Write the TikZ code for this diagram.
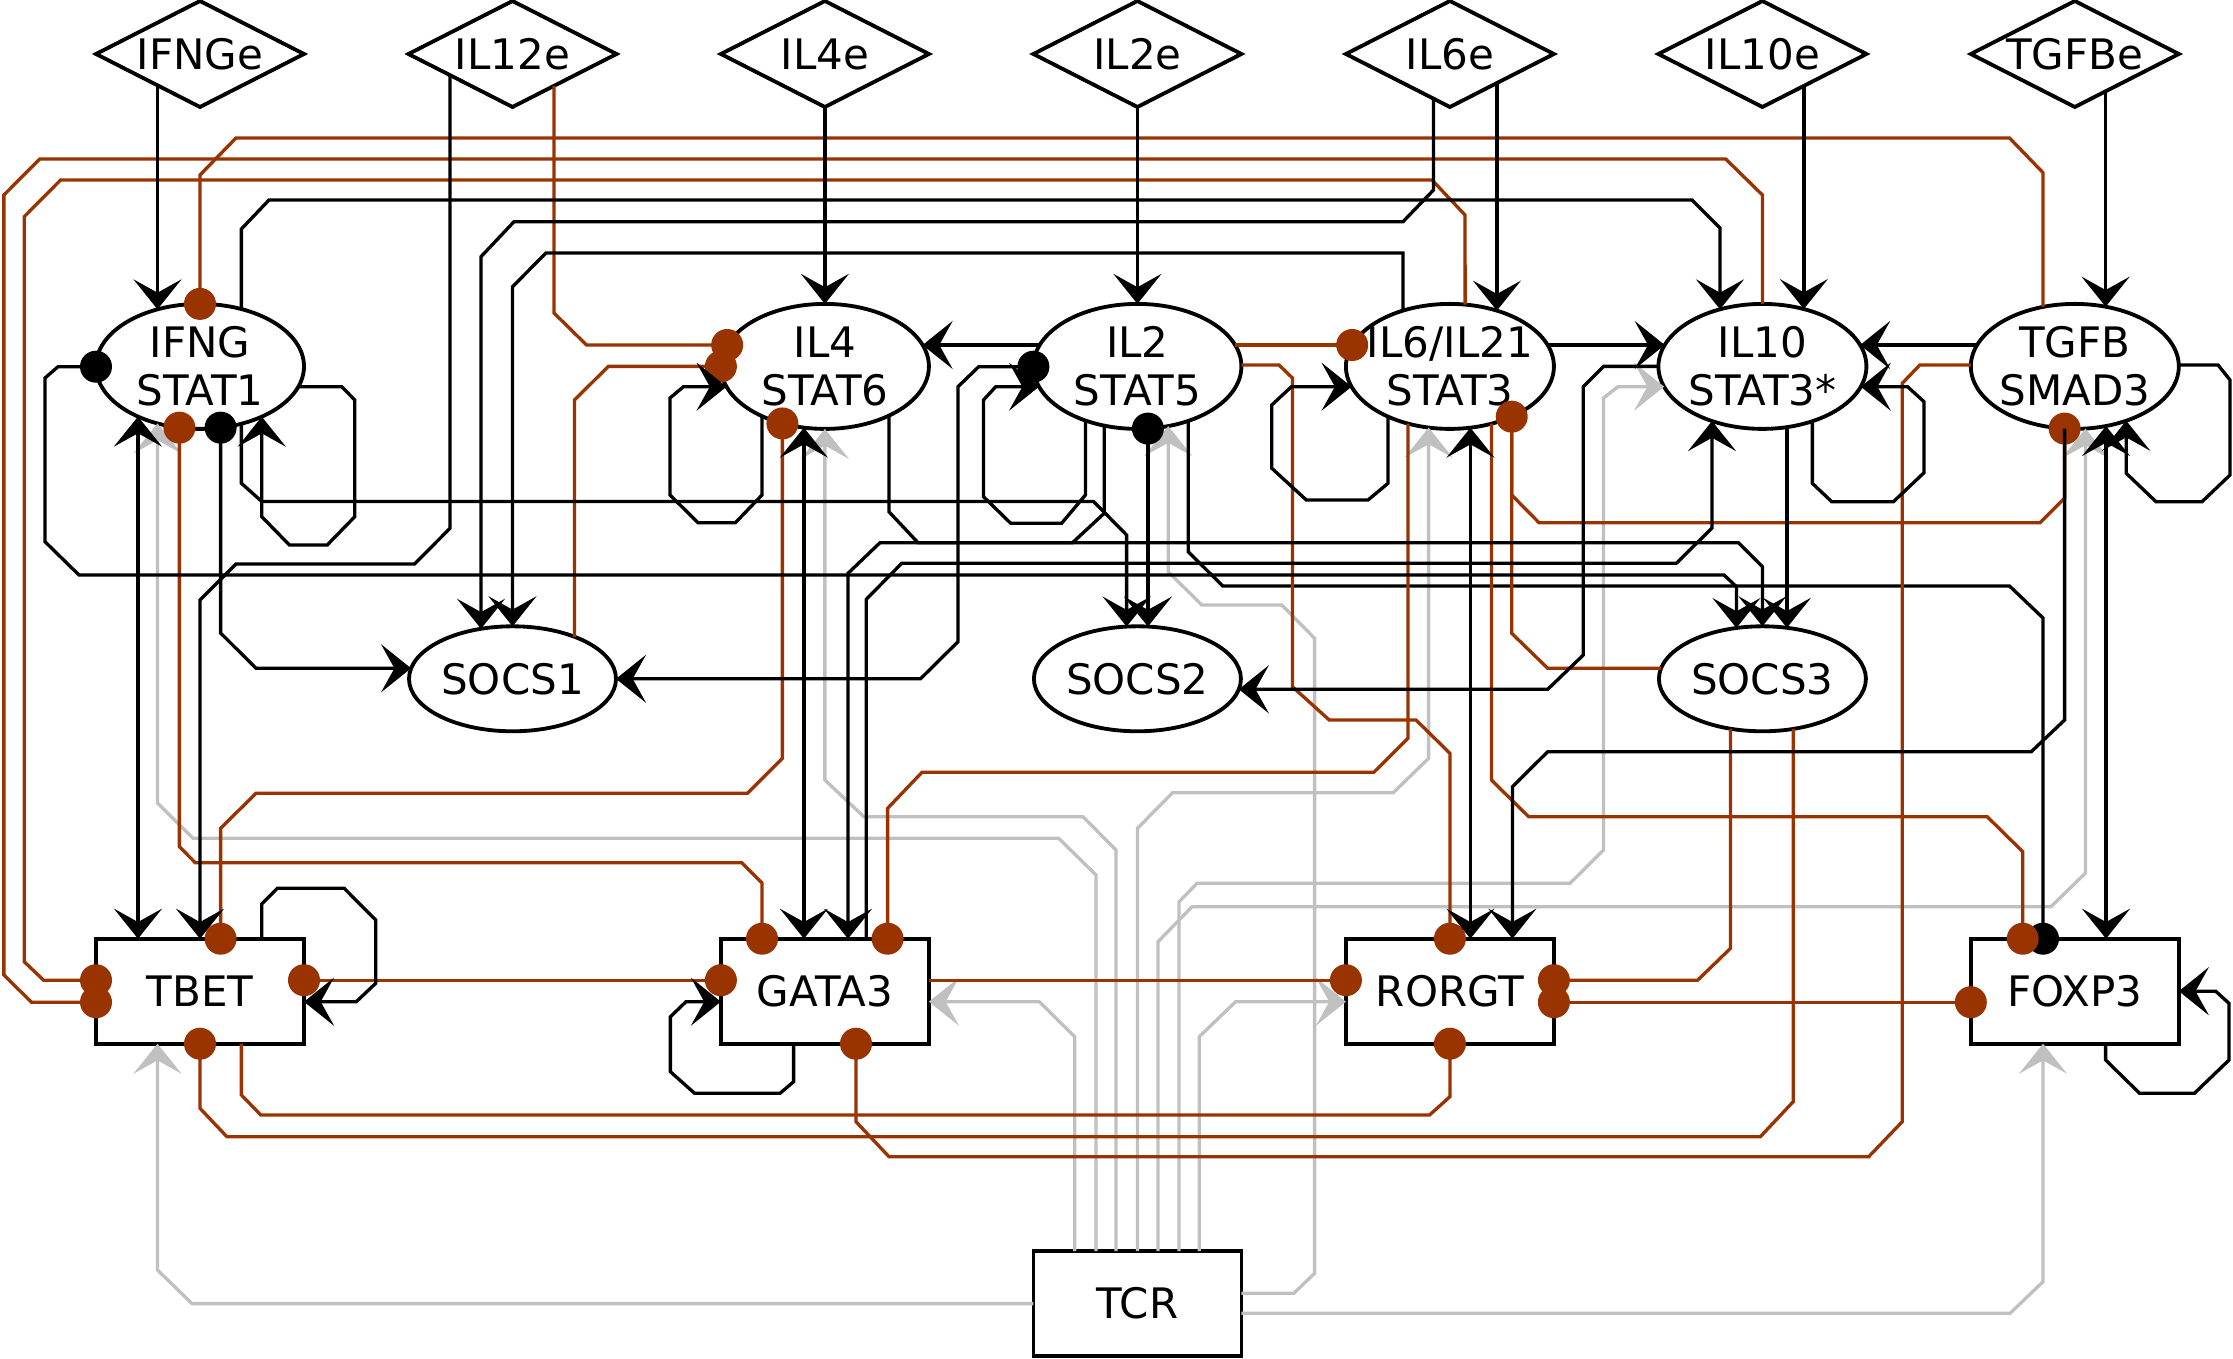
\documentclass[tikz,border=0pt]{standalone}
\usepackage{fontspec}
\setmainfont{DejaVu Sans}
\usetikzlibrary{shapes.geometric,arrows.meta,calc}
\definecolor{brn}{HTML}{993300}
\definecolor{gry}{HTML}{C0C0C0}
% boundary points: STAT ellipses (a=104,b=62.5)
\newcommand\eB[2]{($(#1)+(#2,{62.5*sqrt(1-(#2)*(#2)/10816)})$)}
\newcommand\eT[2]{($(#1)+(#2,{-62.5*sqrt(1-(#2)*(#2)/10816)})$)}
\newcommand\eL[2]{($(#1)+({-104*sqrt(1-(#2)*(#2)/3906.25)},#2)$)}
\newcommand\eR[2]{($(#1)+({104*sqrt(1-(#2)*(#2)/3906.25)},#2)$)}
% SOCS ellipses (a=103.5,b=52.5)
\newcommand\sB[2]{($(#1)+(#2,{52.5*sqrt(1-(#2)*(#2)/10712.25)})$)}
\newcommand\sT[2]{($(#1)+(#2,{-52.5*sqrt(1-(#2)*(#2)/10712.25)})$)}
\newcommand\sL[2]{($(#1)+({-103.5*sqrt(1-(#2)*(#2)/2756.25)},#2)$)}
\newcommand\sR[2]{($(#1)+({103.5*sqrt(1-(#2)*(#2)/2756.25)},#2)$)}
% boxes
\newcommand\bT[2]{($(#1.north)+(#2,0)$)}
\newcommand\bB[2]{($(#1.south)+(#2,0)$)}
\newcommand\bL[2]{($(#1.west)+(0,#2)$)}
\newcommand\bR[2]{($(#1.east)+(0,#2)$)}
% diamonds
\newcommand\dB[2]{($(#1)+(#2,{53*(1-abs(#2)/104)})$)}
\begin{document}
\begin{tikzpicture}[x=0.3pt,y=-0.3pt,
  >={Stealth[length=9pt,width=14.4pt,inset=4pt]},
  every node/.style={font={\fontsize{12.6pt}{14.4pt}\selectfont}, outer sep=0pt},
  base/.style={draw, line width=1.15pt, fill=white},
  dia/.style={base, diamond, inner sep=0pt, minimum width=62.4pt, minimum height=31.8pt},
  stat/.style={base, ellipse, align=center, inner xsep=-8pt, inner ysep=-3pt, minimum width=62.4pt, minimum height=37.5pt},
  socs/.style={base, ellipse, inner sep=0pt, minimum width=62.1pt, minimum height=31.5pt},
  bx/.style={base, rectangle, inner sep=0pt, minimum width=62.4pt, minimum height=31.5pt},
  kl/.style={draw=black, line width=1pt},
  bl/.style={draw=brn, line width=1pt},
  gl/.style={draw=gry, line width=1pt, ->},
  bdot/.style={circle, fill=brn, draw=none, inner sep=0pt, minimum size=9.6pt},
  kdot/.style={circle, fill=black, draw=none, inner sep=0pt, minimum size=9.6pt}]
\useasboundingbox (0,0) rectangle (2233,1358);
% ---------------- nodes
\node[dia] (IFNGe) at (200,54) {\makebox[0pt]{IFNGe}};
\node[dia] (IL12e) at (512.5,54) {\makebox[0pt]{IL12e}};
\node[dia] (IL4e) at (824.9,54) {\makebox[0pt]{IL4e}};
\node[dia] (IL2e) at (1137.4,54) {\makebox[0pt]{IL2e}};
\node[dia] (IL6e) at (1449.9,54) {\makebox[0pt]{IL6e}};
\node[dia] (IL10e) at (1762.4,54) {\makebox[0pt]{IL10e}};
\node[dia] (TGFBe) at (2074.8,54) {\makebox[0pt]{TGFBe}};
\node[stat] (IFNG) at (200,366.4) {IFNG\\STAT1};
\node[stat] (IL4) at (824.9,366.4) {IL4\\STAT6};
\node[stat] (IL2) at (1137.4,366.4) {IL2\\STAT5};
\node[stat] (IL6) at (1449.9,366.4) {IL6/IL21\\STAT3};
\node[stat] (IL10) at (1762.4,366.4) {IL10\\STAT3*};
\node[stat] (TGFB) at (2074.8,366.4) {TGFB\\SMAD3};
\node[socs] (SOCS1) at (512.5,678.8) {\makebox[0pt]{SOCS1}};
\node[socs] (SOCS2) at (1137.4,678.8) {\makebox[0pt]{SOCS2}};
\node[socs] (SOCS3) at (1762.4,678.8) {\makebox[0pt]{SOCS3}};
\node[bx] (TBET) at (200,991.2) {\makebox[0pt]{TBET}};
\node[bx] (GATA3) at (824.9,991.2) {\makebox[0pt]{GATA3}};
\node[bx] (RORGT) at (1449.9,991.2) {\makebox[0pt]{RORGT}};
\node[bx] (FOXP3) at (2074.8,991.2) {\makebox[0pt]{FOXP3}};
\node[bx] (TCR) at (1137.4,1303.6) {\makebox[0pt]{TCR}};
% ---------------- gray (TCR)
\draw[gl] (TCR.west) -- (192,1303.6) -- (157.5,1270) -- \bB{TBET}{-42.5};
\draw[gl] \bT{TCR}{-62.7} -- (1074.7,1036.7) -- (1039.3,1001.7) -- \bR{GATA3}{10.5};
\draw[gl] \bT{TCR}{-41.4} -- (1096,875) -- (1058.7,838.3) -- (193,838.3) -- (157.5,803) -- \eB{IFNG}{-42.5};
\draw[gl] \bT{TCR}{-21.5} -- (1115.9,850) -- (1083,816.7) -- (863.8,816.7) -- (824.9,780) -- (IL4.south);
\draw[gl] (TCR.north) -- (1137.4,828.3) -- (1172.6,792.7) -- (1393.2,792.7) -- (1428.6,758.3) -- \eB{IL6}{-21.3};
\draw[gl] \bT{TCR}{20.6} -- (1158,941.7) -- (1192,906.7) -- (2051,906.7) -- (2085.4,873) -- \eB{TGFB}{10.6};
\draw[gl] \bT{TCR}{41.5} -- (1178.9,902) -- (1197,883.3) -- (1570,883.3) -- (1603.5,850) -- (1603.5,398) -- (1617.9,386.7) -- \eL{IL10}{20.3};
\draw[gl] \bT{TCR}{61.9} -- (1199.3,1036.7) -- (1235.6,1001.7) -- \bL{RORGT}{10.5};
\draw[gl] \bR{TCR}{-10.3} -- (1293.8,1293.3) -- (1314.6,1273.3) -- (1314.6,638.3) -- (1281.7,605) -- (1201.7,605) -- (1168.2,571.7) -- \eB{IL2}{30.8};
\draw[gl] \bR{TCR}{9.7} -- (2010,1313.3) -- (2043,1281.7) -- \bB{FOXP3}{-31.8};
% ---------------- black dot edge below brown dot
\draw[kl] \eB{IL2}{50.8} -- (1188.2,551.7) -- (1222.7,586) -- (2009.5,586) -- (2043,618) -- \bT{FOXP3}{-31.8} node[kdot]{};
% ---------------- brown inhibitions
\draw[bl] \eT{TGFB}{-31.8} -- (2043,172.7) -- (2009.5,138) -- (236,138) -- (200,175) -- (IFNG.north) node[bdot]{};
\draw[bl] (IL10.north) -- (1762.4,195) -- (1725.7,159) -- (39.7,159) -- (3.9,195) -- (3.9,975) -- (31.5,1002.2) -- \bL{TBET}{11} node[bdot]{};
\draw[bl] \eT{IL6}{15.2} -- (1465,215) -- (1432,180) -- (60.6,180) -- (24.2,216.7) -- (24.2,961.7) -- (43.6,980.2) -- \bL{TBET}{-11} node[bdot]{};
\draw[bl] \dB{IL12e}{41.5} -- (554,313) -- (586.5,345) -- \eL{IL4}{-21.4} node[bdot]{};
\draw[bl] \sT{SOCS1}{62} -- (574.5,400) -- (608.3,366.4) -- (IL4.west) node[bdot]{};
\draw[bl] \eR{IL2}{-21.4} -- \eL{IL6}{-21.4} node[bdot]{};
\draw[bl] \eR{IL2}{-1.4} -- (1279,365) -- (1292.4,378) -- (1292.4,686.7) -- (1329.2,720) -- (1416,720) -- (1449.9,753.3) -- (RORGT.north) node[bdot]{};
\draw[bl] \eB{IL6}{-42} -- (1407.9,738.3) -- (1373.8,772.3) -- (922,772.3) -- (887.6,808.3) -- \bT{GATA3}{62.7} node[bdot]{};
\draw[bl] \eB{IL6}{41.5} -- (1491.4,780) -- (1528.6,816.7) -- (1987.2,816.7) -- (2022.7,851.7) -- \bT{FOXP3}{-52.1} node[bdot]{};
\draw[bl] \sL{SOCS3}{-10.5} -- (1547.7,668.3) -- (1511.7,633.3) -- \eB{IL6}{61.8};
\draw[bl] \eB{IL6}{61.8} node[bdot]{} -- (1511.7,495) -- (1539,522.7) -- (2040,522.7) -- (2064.6,498) -- \eB{TGFB}{-10.2} node[bdot]{};
\draw[bl] \eB{IFNG}{-20.6} node[bdot]{} -- (179.4,846.7) -- (195.3,862.7) -- (741.7,862.7) -- (762,883) -- \bT{GATA3}{-62.9} node[bdot]{};
\draw[bl] \eB{IL4}{-42.5} node[bdot]{} -- (782.4,758.3) -- (747.5,793.3) -- (256,793.3) -- (220.6,828.3) -- \bT{TBET}{20.6} node[bdot]{};
\draw[bl] \bR{TBET}{-11} node[bdot]{} -- \bL{GATA3}{-11} node[bdot]{};
\draw[bl] \bR{GATA3}{-11} -- \bL{RORGT}{-11} node[bdot]{};
\draw[bl] \eL{TGFB}{-1.4} -- (1919.8,365) -- (1902.2,383.3) -- (1902.2,1121.7) -- (1868.7,1156.7) -- (889,1156.7) -- (856,1121.7) -- \bB{GATA3}{31.1} node[bdot]{};
\draw[bl] \sB{SOCS3}{-31.9} -- (1730.5,948.3) -- (1697.6,980.2) -- \bR{RORGT}{-11} node[bdot]{};
\draw[bl] \sB{SOCS3}{30.8} -- (1793.2,1101.7) -- (1760.3,1136.7) -- (226.9,1136.7) -- (200,1108.3) -- (TBET.south) node[bdot]{};
\draw[bl] \bB{TBET}{41.4} -- (241.4,1095) -- (260.8,1115) -- (1429.5,1115) -- (1449.9,1096.7) -- (RORGT.south) node[bdot]{};
\draw[bl] \bR{RORGT}{11} node[bdot]{} -- \bL{FOXP3}{11} node[bdot]{};
% ---------------- black activations
\draw[kl,->] \dB{IFNGe}{-42.5} -- \eT{IFNG}{-42.5};
\draw[kl,->] (IL4e.south) -- (IL4.north);
\draw[kl,->] (IL2e.south) -- (IL2.north);
\draw[kl,->] \dB{IL6e}{47} -- \eT{IL6}{47};
\draw[kl,->] \dB{IL10e}{41.4} -- \eT{IL10}{41.4};
\draw[kl,->] \dB{TGFBe}{30.8} -- \eT{TGFB}{30.8};
\draw[kl,->] \dB{IL12e}{-62.5} -- (450,528.3) -- (414.5,564) -- (236,564) -- (200,600) -- (TBET.north);
\draw[kl,->] \dB{IL6e}{-16.4} -- (1433.5,190) -- (1403,221.7) -- (514,221.7) -- (481,256.7) -- \sT{SOCS1}{-31.5};
\draw[kl,->] \eT{IL6}{-46.9} -- (1403,253) -- (546,253) -- (512.5,286.7) -- (SOCS1.north);
\draw[kl,->] \eT{IFNG}{41.4} -- (241.4,229) -- (269,200) -- (1692,200) -- (1720,228) -- \eT{IL10}{-42.4};
\draw[kl,->] \eL{IL2}{-21.4} -- \eR{IL4}{-21.4};
\draw[kl,->] \eR{IL6}{-21.4} -- \eL{IL10}{-21.4};
\draw[kl,->] \eL{TGFB}{-21.4} -- \eR{IL10}{-21.4};
\draw[kl,->] (IL10.west) -- (1603.5,366.4) -- (1583.3,386.7) -- (1583.3,655) -- (1547.7,689.3) -- \sR{SOCS2}{10.5};
\draw[kl,->] \eB{IFNG}{41.4} -- (241.4,483.3) -- (261.8,501.5) -- (1093.6,501.5) -- (1126.6,535) -- \sT{SOCS2}{-10.8};
\draw[kl,->] \eB{IFNG}{20.6} node[kdot]{} -- (220.6,633) -- (256,668.3) -- \sL{SOCS1}{-10.5};
\draw[kl,->] \eL{IFNG}{0.3} node[kdot]{} -- (58,366.7) -- (45,378) -- (45,541.7) -- (79,575) -- (1724,575) -- (1736.4,586.7) -- \sT{SOCS3}{-26};
\draw[kl,->] \eL{IL2}{0.3} node[kdot]{} -- (978.7,366.7) -- (958,386.7) -- (958,641.7) -- (920.5,678.8) -- (SOCS1.east);
\draw[kl,->] \eB{IL2}{10.5} node[kdot]{} -- \sT{SOCS2}{10.5};
\draw[kl,->] \eB{IL2}{-33.2} -- (1104.2,513.3) -- (1072.5,542.7) -- (880,542.7) -- (848,573.3) -- \bT{GATA3}{23.1};
\draw[kl,->] \eB{IL4}{64} -- (888.9,511.7) -- (918,542.7) -- (1738.5,542.7) -- (1762.4,566.7) -- (SOCS3.north);
\draw[kl,->] \bT{GATA3}{41.4} -- (866.3,599.3) -- (901.7,563.3) -- (1676.3,563.3) -- (1712,528) -- \eB{IL10}{-50.4};
\draw[kl,->] \eB{IL10}{24.5} -- \sT{SOCS3}{24.5};
\draw[kl,->] \eB{TGFB}{-10.2} -- (2064.6,720) -- (2031.2,751.7) -- (1547.7,751.7) -- (1512.4,786.7) -- \bT{RORGT}{62.5};
\draw[kl,<->] \eB{TGFB}{31.2} -- \bT{FOXP3}{31.2};
\draw[kl,<->] \eB{IFNG}{-62} -- \bT{TBET}{-62};
\draw[kl,<->] \eB{IL4}{-21} -- \bT{GATA3}{-21};
\draw[kl,<->] \eB{IL6}{20.5} -- \bT{RORGT}{20.5};
% ---------------- self loops
\draw[kl,->] \eR{IFNG}{20.3} -- (341.7,386.7) -- (354.8,400) -- (354.8,516.7) -- (327.2,545) -- (289.4,545) -- (261.8,516.7) -- \eB{IFNG}{61.8};
\draw[kl,->] \eB{IL4}{-62.9} -- (762,495) -- (735.4,522.7) -- (698,522.7) -- (670,495) -- (670,398) -- (683.5,386.7) -- \eL{IL4}{20.3};
\draw[kl,->] \eB{IL2}{-52} -- (1085.4,495) -- (1061.6,523.3) -- (1010.7,523.3) -- (983.5,496.7) -- (983.5,400) -- (995.7,386.7) -- \eL{IL2}{20.3};
\draw[kl,->] \eB{IL6}{-61.9} -- (1388,483.3) -- (1368,500) -- (1306.3,500) -- (1271.8,468.3) -- (1271.8,405) -- (1291.4,386.7) -- \eL{IL6}{20.3};
\draw[kl,->] \eB{IL10}{49.9} -- (1812.3,483.3) -- (1831.7,501.7) -- (1893.4,501.7) -- (1924,472.7) -- (1924,401.7) -- (1907.5,386.7) -- \eR{IL10}{20.3};
\draw[kl,->] \eR{TGFB}{-1.4} -- (2218,365) -- (2230,380) -- (2230,475) -- (2202,501.7) -- (2156,501.7) -- (2126.2,473.3) -- \eB{TGFB}{51.4};
\draw[kl,->] \bT{TBET}{61.8} -- (261.8,904) -- (277.3,888.3) -- (344.2,888.3) -- (375.7,920) -- (375.7,983.3) -- (356.3,1001.7) -- \bR{TBET}{10.5};
\draw[kl,->] \bB{GATA3}{-31.3} -- (793.6,1081.7) -- (780,1093.3) -- (694.6,1093.3) -- (670.4,1071.7) -- (670.4,1016.7) -- (686,1001.7) -- \bL{GATA3}{10.5};
\draw[kl,->] \bB{FOXP3}{30.8} -- (2105.6,1060) -- (2139.6,1093.3) -- (2194.4,1093.3) -- (2229,1060) -- (2229,1003.3) -- (2215.6,991.2) -- (FOXP3.east);
\end{tikzpicture}
\end{document}
